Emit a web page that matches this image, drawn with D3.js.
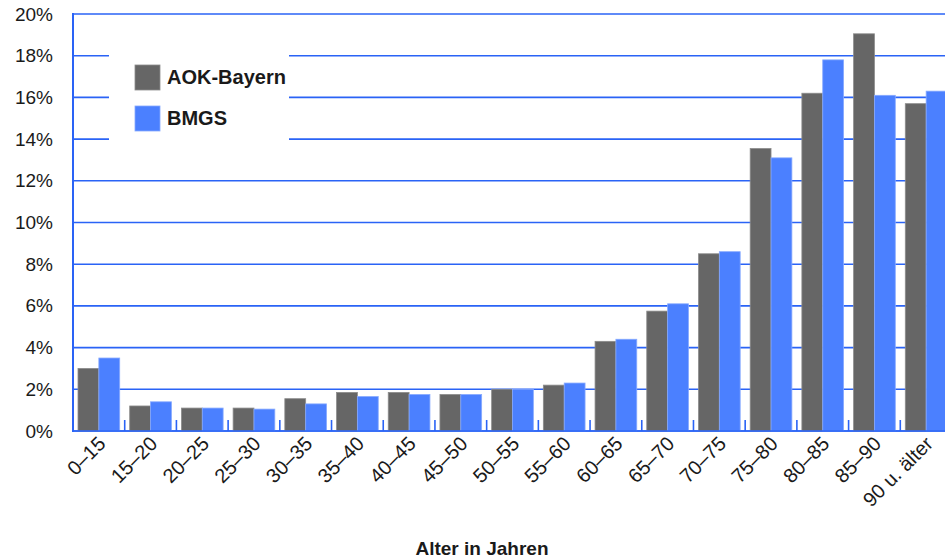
<!DOCTYPE html>
<html>
<head>
<meta charset="utf-8">
<script src="https://cdn.jsdelivr.net/npm/d3@7/dist/d3.min.js"></script>
<style>
  html, body { margin: 0; padding: 0; background: #fff; }
  svg { display: block; font-family: "Liberation Sans", Arial, sans-serif; }
</style>
</head>
<body>
<svg id="chart" width="945" height="558"></svg>
<script>
// Age groups (Altersgruppen)
const categories = ["0–15", "15–20", "20–25", "25–30", "30–35", "35–40", "40–45", "45–50",
  "50–55", "55–60", "60–65", "65–70", "70–75", "75–80", "80–85", "85–90", "90 u. älter"];

// Share per age group, in percent
const aokBayern = [3.0, 1.2, 1.1, 1.1, 1.55, 1.85, 1.85, 1.75, 2.0, 2.2, 4.3, 5.75, 8.5, 13.55, 16.2, 19.05, 15.7];
const bmgs      = [3.5, 1.4, 1.1, 1.05, 1.3, 1.65, 1.75, 1.75, 2.0, 2.3, 4.4, 6.1, 8.6, 13.1, 17.8, 16.1, 16.3];

const seriesNames = ["AOK-Bayern", "BMGS"];
const seriesColors = ["#666666", "#4b80ff"];
const yTicks = [0, 2, 4, 6, 8, 10, 12, 14, 16, 18, 20];
const xTitle = "Alter in Jahren";

const svg = d3.select("#chart");
const plotLeft = 73, plotTop = 14, plotBottom = 431, plotRight = 952;

const x0 = d3.scaleBand().domain(categories).range([plotLeft, plotRight]).padding(0);
const x1 = d3.scaleBand().domain(seriesNames).range([5, x0.bandwidth() - 5]).padding(0);
const y = d3.scaleLinear().domain([0, 20]).range([plotBottom, plotTop]);

const gridBlue = "#2a63f6";

// horizontal grid lines
svg.append("g")
  .selectAll("line")
  .data(yTicks)
  .join("line")
  .attr("x1", plotLeft).attr("x2", 945)
  .attr("y1", d => y(d)).attr("y2", d => y(d))
  .attr("stroke", gridBlue).attr("stroke-width", 1.6);

// legend panel covers the grid behind it
svg.append("rect")
  .attr("x", 109).attr("y", 30).attr("width", 180).attr("height", 135)
  .attr("fill", "#fff");

// bars
const rows = categories.map((c, i) => ({ cat: c, values: [aokBayern[i], bmgs[i]] }));
const groups = svg.append("g")
  .selectAll("g")
  .data(rows)
  .join("g")
  .attr("transform", d => `translate(${x0(d.cat)},0)`);

groups.selectAll("rect")
  .data(d => d.values.map((v, j) => ({ name: seriesNames[j], v, j })))
  .join("rect")
  .attr("x", d => x1(d.name))
  .attr("width", x1.bandwidth())
  .attr("y", d => y(d.v))
  .attr("height", d => y(0) - y(d.v))
  .attr("fill", d => seriesColors[d.j])
  .attr("stroke", d => d.j === 0 ? "#8c8c8c" : "#86a9ff")
  .attr("stroke-width", 0.8);

// y axis line
svg.append("line")
  .attr("x1", plotLeft).attr("x2", plotLeft).attr("y1", plotTop - 1).attr("y2", plotBottom + 1)
  .attr("stroke", gridBlue).attr("stroke-width", 2);

// baseline
svg.append("line")
  .attr("x1", plotLeft).attr("x2", 945).attr("y1", plotBottom).attr("y2", plotBottom)
  .attr("stroke", gridBlue).attr("stroke-width", 1.6);

// small ticks between age groups
svg.append("g")
  .selectAll("line")
  .data(categories.slice(1))
  .join("line")
  .attr("x1", d => x0(d)).attr("x2", d => x0(d))
  .attr("y1", plotBottom - 11).attr("y2", plotBottom)
  .attr("stroke", gridBlue).attr("stroke-width", 1.6);

// y tick labels
svg.append("g")
  .selectAll("text")
  .data(yTicks)
  .join("text")
  .attr("x", 53)
  .attr("y", d => y(d) + 6.5)
  .attr("text-anchor", "end")
  .attr("font-size", 19)
  .attr("fill", "#1a1a1a")
  .text(d => d + "%");

// x tick labels, rotated
svg.append("g")
  .selectAll("text")
  .data(categories)
  .join("text")
  .attr("transform", d => `translate(${x0(d) + x0.bandwidth() / 2 + 8},${plotBottom + 14}) rotate(-45)`)
  .attr("text-anchor", "end")
  .attr("font-size", 20)
  .attr("fill", "#1a1a1a")
  .text(d => d);

// x axis title
svg.append("text")
  .attr("x", 482).attr("y", 555)
  .attr("text-anchor", "middle")
  .attr("font-size", 19)
  .attr("font-weight", "bold")
  .attr("fill", "#1a1a1a")
  .text(xTitle);

// legend
const legend = svg.append("g");
seriesNames.forEach((name, i) => {
  const ly = 65 + i * 41;
  legend.append("rect")
    .attr("x", 135).attr("y", ly).attr("width", 25).attr("height", 25)
    .attr("fill", seriesColors[i])
    .attr("stroke", i === 0 ? "#8c8c8c" : "#86a9ff").attr("stroke-width", 0.8);
  legend.append("text")
    .attr("x", 167).attr("y", ly + 19)
    .attr("font-size", 20)
    .attr("font-weight", "bold")
    .attr("fill", "#1a1a1a")
    .text(name);
});
</script>
</body>
</html>
